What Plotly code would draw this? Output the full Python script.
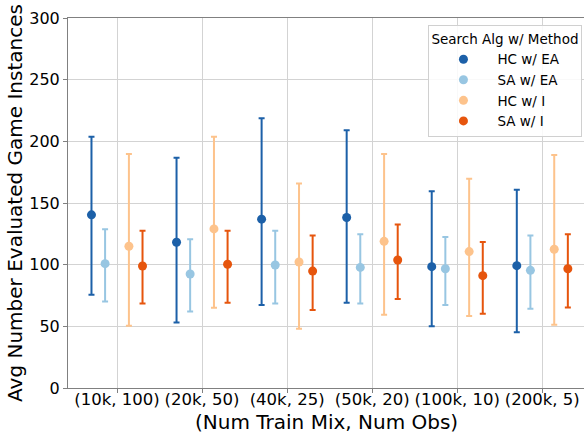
import plotly.graph_objects as go

categories = ["(10k, 100)", "(20k, 50)", "(40k, 25)", "(50k, 20)", "(100k, 10)", "(200k, 5)"]
series_names = ["HC w/ EA", "SA w/ EA", "HC w/ I", "SA w/ I"]

hc_ea_mean = [140.4, 118.2, 136.9, 138.2, 98.4, 99.2]
hc_ea_low = [75.6, 53.1, 67.2, 69.1, 50.1, 45.3]
hc_ea_high = [203.8, 186.7, 218.7, 208.9, 159.6, 160.7]

sa_ea_mean = [100.8, 92.4, 99.7, 97.8, 96.7, 95.4]
sa_ea_low = [70.2, 62.0, 68.5, 68.5, 67.2, 64.2]
sa_ea_high = [128.7, 120.6, 127.4, 124.7, 122.5, 123.6]

hc_i_mean = [114.9, 129.0, 102.2, 118.9, 110.6, 112.5]
hc_i_low = [50.4, 65.0, 48.0, 59.3, 58.3, 51.2]
hc_i_high = [189.7, 203.8, 165.9, 189.7, 169.6, 188.9]

sa_i_mean = [98.9, 100.3, 94.8, 103.8, 91.1, 96.7]
sa_i_low = [68.5, 69.1, 63.2, 72.1, 60.2, 65.3]
sa_i_high = [127.4, 127.4, 123.6, 132.5, 118.4, 124.7]

offsets = [-0.3, -0.14, 0.14, 0.3]
colors = ["#1c60a8", "#98c6e2", "#fdc38c", "#e6550d"]

data = [
    (hc_ea_mean, hc_ea_low, hc_ea_high),
    (sa_ea_mean, sa_ea_low, sa_ea_high),
    (hc_i_mean, hc_i_low, hc_i_high),
    (sa_i_mean, sa_i_low, sa_i_high),
]

fig = go.Figure()
for name, (m, lo, hi), off, c in zip(series_names, data, offsets, colors):
    xs = [i + off for i in range(len(categories))]
    fig.add_trace(go.Scatter(
        x=xs, y=m, mode="markers", name=name,
        marker=dict(color=c, size=9),
        error_y=dict(type="data", symmetric=False,
                     array=[h - v for h, v in zip(hi, m)],
                     arrayminus=[v - l for v, l in zip(m, lo)],
                     color=c, thickness=2, width=3),
    ))

fig.update_layout(
    width=584, height=433,
    margin=dict(l=68, r=0, t=18, b=45),
    paper_bgcolor="white", plot_bgcolor="white",
    font=dict(family="DejaVu Sans", size=16.5, color="black"),
    showlegend=True,
    legend=dict(
        title=dict(text="Search Alg w/ Method", font=dict(size=13.5), side="top"),
        font=dict(size=13.5),
        x=0.997, y=0.98, xanchor="right", yanchor="top",
        bgcolor="rgba(255,255,255,0.85)", bordercolor="#d0d0d0", borderwidth=1,
        itemwidth=58, tracegroupgap=0,
    ),
    xaxis=dict(
        range=[-0.576, 5.49],
        tickmode="array", tickvals=list(range(len(categories))), ticktext=categories,
        showgrid=True, gridcolor="#d3d3d3", gridwidth=1,
        showline=True, linecolor="#808080", mirror=True, linewidth=1,
        ticks="outside", ticklen=4, tickcolor="#808080",
        ticklabelstandoff=-8,
        zeroline=False,
        tickfont=dict(size=16.5),
    ),
    yaxis=dict(
        range=[0, 300], tickvals=[0, 50, 100, 150, 200, 250, 300],
        showgrid=True, gridcolor="#d3d3d3", gridwidth=1,
        showline=True, linecolor="#808080", mirror=True, linewidth=1,
        ticks="outside", ticklen=4, tickcolor="#808080",
        zeroline=False,
        title=dict(text="Avg Number Evaluated Game Instances", font=dict(size=20), standoff=1),
        tickfont=dict(size=16),
    ),
    annotations=[dict(
        text="(Num Train Mix, Num Obs)", xref="paper", yref="paper",
        x=0.5, y=-0.091, xanchor="center", yanchor="middle",
        showarrow=False, font=dict(size=20),
    )],
)

fig.write_html("out.html")
